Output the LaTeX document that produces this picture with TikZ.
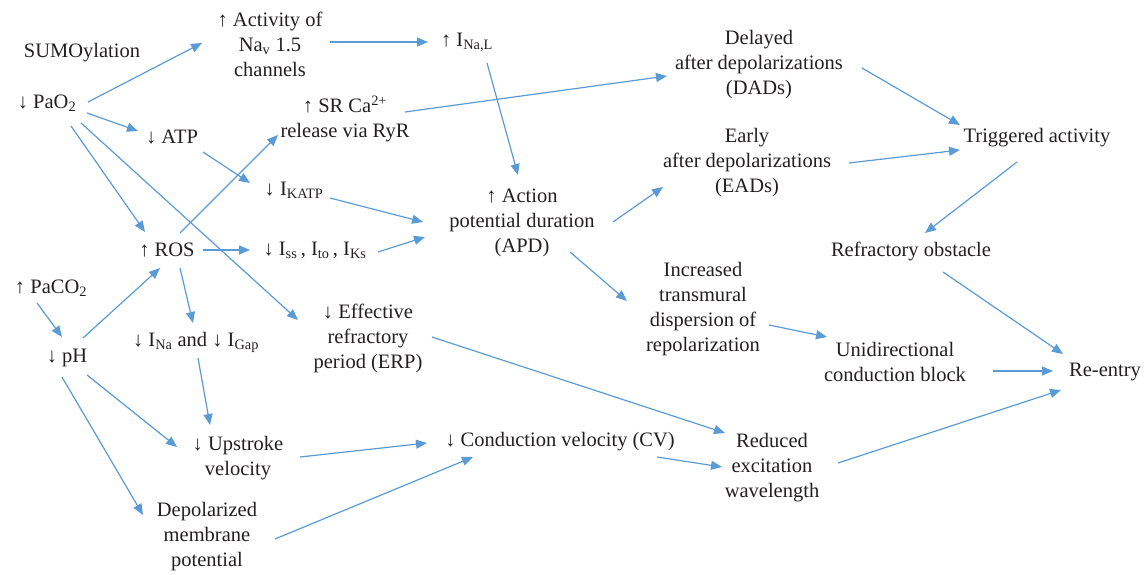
\documentclass[tikz,border=0pt]{standalone}
\usepackage{fontspec}
\setmainfont{Liberation Serif}
\usetikzlibrary{arrows.meta,calc}
\definecolor{arrblue}{RGB}{91,155,213}
\definecolor{txtc}{RGB}{35,31,32}
\begin{document}
\begin{tikzpicture}[x=1pt,y=-1pt,
  lbl/.style={text=txtc, align=center, inner sep=0pt, font=\fontsize{20.5}{25}\selectfont},
  arr/.style={draw=arrblue, line width=1.2pt, -{Triangle[length=11pt,width=9pt]}}]
\useasboundingbox (0,0) rectangle (1148,575);

\node[lbl] (sumo) at (82,53) {SUMOylation};
\node[lbl] (pao2) at (47,103) {↓ PaO\textsubscript{2}};
\node[lbl] (act) at (270,44) {↑ Activity of\\Na\textsubscript{v} 1.5\\channels};
\node[lbl] (inal) at (467,42) {↑ I\textsubscript{Na,L}};
\node[lbl] (dad) at (759,65) {Delayed\\after depolarizations\\(DADs)};
\node[lbl] (atp) at (172,137) {↓ ATP};
\node[lbl] (sr) at (345,119) {↑ SR Ca\textsuperscript{2+}\\release via RyR};
\node[lbl] (katp) at (294,190) {↓ I\textsubscript{KATP}};
\node[lbl] (apd) at (522,223) {↑ Action\\potential duration\\(APD)};
\node[lbl] (ead) at (747,163) {Early\\after depolarizations\\(EADs)};
\node[lbl] (trig) at (1037,138) {Triggered activity};
\node[lbl] (refo) at (911,251) {Refractory obstacle};
\node[lbl] (ros) at (167,250) {↑ ROS};
\node[lbl] (iss) at (315,250) {↓ I\textsubscript{ss}\,, I\textsubscript{to}\,, I\textsubscript{Ks}};
\node[lbl] (paco2) at (51,288) {↑ PaCO\textsubscript{2}};
\node[lbl] (ph) at (67,358) {↓ pH};
\node[lbl] (inag) at (196,342) {↓ I\textsubscript{Na} and ↓ I\textsubscript{Gap}};
\node[lbl] (erp) at (368,338) {↓ Effective\\refractory\\period (ERP)};
\node[lbl] (incr) at (703,309) {Increased\\transmural\\dispersion of\\repolarization};
\node[lbl] (uni) at (895,362) {Unidirectional\\conduction block};
\node[lbl] (reen) at (1105,372) {Re-entry};
\node[lbl] (upv) at (238,458) {↓ Upstroke\\velocity};
\node[lbl] (cv) at (560,442) {↓ Conduction velocity (CV)};
\node[lbl] (red) at (772,468) {Reduced\\excitation\\wavelength};
\node[lbl] (dep) at (207,537) {Depolarized\\membrane\\potential};

\draw[arr] ($(pao2)+(41,-1)$) -- ($(act)+(-68,-1)$);
\draw[arr] ($(act)+(60,-2)$) -- ($(inal)+(-39,0)$);
\draw[arr] ($(pao2)+(40,10)$) -- ($(atp)+(-34,-6)$);
\draw[arr] ($(pao2)+(24,23)$) -- ($(ros)+(-22,-18)$);
\draw[arr] ($(pao2)+(34,20)$) -- ($(erp)+(-70,-18)$);
\draw[arr] ($(atp)+(31,15)$) -- ($(katp)+(-44,-7)$);
\draw[arr] ($(ros)+(13,-17)$) -- ($(sr)+(-67,16)$);
\draw[arr] ($(sr)+(60,-7)$) -- ($(dad)+(-92,11)$);
\draw[arr] ($(inal)+(20,21)$) -- ($(apd)+(-4,-48)$);
\draw[arr] ($(katp)+(36,8)$) -- ($(apd)+(-99,-1)$);
\draw[arr] ($(iss)+(63,2)$) -- ($(apd)+(-97,14)$);
\draw[arr] ($(ros)+(36,0)$) -- ($(iss)+(-65,0)$);
\draw[arr] ($(ros)+(13,18)$) -- ($(inag)+(-3,-19)$);
\draw[arr] ($(paco2)+(-14,15)$) -- ($(ph)+(-5,-21)$);
\draw[arr] ($(ph)+(16,-20)$) -- ($(ros)+(-7,18)$);
\draw[arr] ($(ph)+(20,17)$) -- ($(upv)+(-61,-11)$);
\draw[arr] ($(ph)+(-5,19)$) -- ($(dep)+(-64,-22)$);
\draw[arr] ($(inag)+(2,16)$) -- ($(upv)+(-28,-33)$);
\draw[arr] ($(upv)+(62,-1)$) -- ($(cv)+(-133,1)$);
\draw[arr] ($(dep)+(68,2)$) -- ($(cv)+(-87,15)$);
\draw[arr] ($(cv)+(97,15)$) -- ($(red)+(-50,-1)$);
\draw[arr] ($(erp)+(64,-1)$) -- ($(red)+(-47,-35)$);
\draw[arr] ($(apd)+(91,-1)$) -- ($(ead)+(-84,24)$);
\draw[arr] ($(apd)+(48,29)$) -- ($(incr)+(-76,-8)$);
\draw[arr] ($(ead)+(102,0)$) -- ($(trig)+(-77,12)$);
\draw[arr] ($(dad)+(103,3)$) -- ($(trig)+(-77,-13)$);
\draw[arr] ($(trig)+(-20,24)$) -- ($(refo)+(14,-18)$);
\draw[arr] ($(refo)+(32,21)$) -- ($(reen)+(-42,-18)$);
\draw[arr] ($(incr)+(66,16)$) -- ($(uni)+(-68,-25)$);
\draw[arr] ($(uni)+(98,9)$) -- ($(reen)+(-52,-1)$);
\draw[arr] ($(red)+(66,-5)$) -- ($(reen)+(-44,18)$);
\end{tikzpicture}
\end{document}
